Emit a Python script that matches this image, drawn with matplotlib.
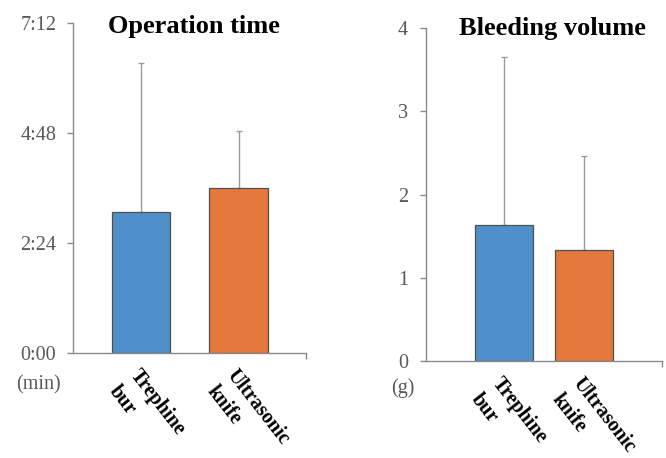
import matplotlib
matplotlib.use('Agg')
import matplotlib.pyplot as plt
import numpy as np

plt.rcParams['font.family'] = ['Liberation Serif', 'DejaVu Serif']

# Data
groups = [['Trephine', 'bur'], ['Ultrasonic', 'knife']]
colors = ['#4f8fca', '#e4783d']

# operation time in seconds (mean, SD)
op_mean = [184, 216]
op_sd = [195, 74]
op_ticks = [0, 144, 288, 432]
op_ticklabels = ['0:00', '2:24', '4:48', '7:12']

# bleeding volume in grams (mean, SD)
bl_mean = [1.63, 1.33]
bl_sd = [2.03, 1.13]
bl_ticks = [0, 1, 2, 3, 4]

W, H = 666, 458
fig = plt.figure(figsize=(W / 100, H / 100), dpi=100)

axis_col = '#8a8a8a'
tick_col = '#595959'
ROT = -52
LINE_STEP = 19  # points between the two label lines


def style(ax, xmax):
    for s in ['top', 'right']:
        ax.spines[s].set_visible(False)
    for s in ['left', 'bottom']:
        ax.spines[s].set_color(axis_col)
        ax.spines[s].set_linewidth(1.0)
    ax.tick_params(axis='y', direction='out', length=4, width=1, color=axis_col,
                   labelsize=14.5, labelcolor=tick_col)
    ax.set_xticks([])
    # small end tick on the category axis
    ax.set_xticks([xmax], minor=True)
    ax.tick_params(axis='x', which='minor', direction='out', length=4, width=1,
                   color=axis_col)


def draw(ax, means, sds, width):
    x = np.arange(len(groups))
    ax.bar(x, means, width=width, color=colors, edgecolor='#505050', linewidth=0.9,
           zorder=2)
    ax.errorbar(x, means, yerr=[[0] * len(sds), sds], fmt='none', ecolor='#9a9a9a',
                elinewidth=1.0, capsize=2.5, capthick=1.0, zorder=1)
    # rotated two-line category labels, one text per line
    a = np.deg2rad(ROT)
    dx, dy = np.sin(a) * LINE_STEP, -np.cos(a) * LINE_STEP
    for i, lines in enumerate(groups):
        for k, line in enumerate(lines):
            ax.annotate(line, xy=(x[i], 0), xycoords=('data', 'axes fraction'),
                        xytext=(k * dx, -9 + k * dy), textcoords='offset points',
                        rotation=ROT, rotation_mode='anchor', ha='left', va='top',
                        fontsize=14.5, fontweight='bold', annotation_clip=False)


# left panel
ax1 = fig.add_axes([73 / W, 1 - 353 / H, 233 / W, 330 / H])
style(ax1, 1.69)
ax1.tick_params(axis='y', pad=8)
draw(ax1, op_mean, op_sd, 0.6)
ax1.set_xlim(-0.70, 1.69)
ax1.set_ylim(0, 432)
ax1.set_yticks(op_ticks)
ax1.set_yticklabels(op_ticklabels)
ax1.text(0.52, 0.99, 'Operation time', transform=ax1.transAxes, ha='center',
         va='center', fontsize=19, fontweight='bold')
fig.text(38 / W, 1 - 385 / H, '(min)', ha='center', va='center', fontsize=14.5,
         color=tick_col)

# right panel
ax2 = fig.add_axes([426 / W, 1 - 361 / H, 235.7 / W, 332.7 / H])
style(ax2, 1.97)
ax2.tick_params(axis='y', pad=9)
draw(ax2, bl_mean, bl_sd, 0.72)
ax2.set_xlim(-0.97, 1.97)
ax2.set_ylim(0, 4)
ax2.set_yticks(bl_ticks)
ax2.text(0.535, 1.0, 'Bleeding volume', transform=ax2.transAxes, ha='center',
         va='center', fontsize=19, fontweight='bold')
fig.text(403 / W, 1 - 388 / H, '(g)', ha='center', va='center', fontsize=14.5,
         color=tick_col)

fig.savefig('out.png', dpi=100)
